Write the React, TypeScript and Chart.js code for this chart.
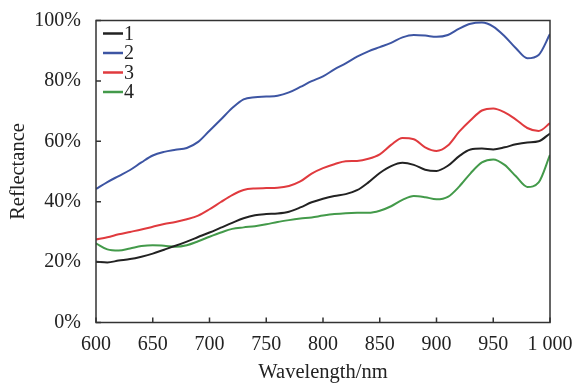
import React, { useEffect, useRef } from "react";
import { Chart, registerables } from "chart.js";

Chart.register(...registerables);

const wavelengths = [600,610,620,630,640,650,660,670,680,690,700,710,720,730,740,750,760,770,780,790,800,810,820,830,840,850,860,870,880,890,900,910,920,930,940,950,960,970,980,990,1000];

const series1 = [20.1,19.9,20.5,21,21.8,22.8,24.1,25.4,26.8,28.3,29.8,31.4,33,34.5,35.5,35.9,36.1,36.7,38.1,39.8,41,41.9,42.5,43.8,46.4,49.5,51.8,52.9,52.2,50.6,50.2,51.9,55.1,57.3,57.6,57.3,58,59,59.6,60,62.6];
const series2 = [44.2,46.5,48.5,50.5,53,55.3,56.5,57.2,57.8,59.8,63.5,67.2,71,73.9,74.6,74.8,75.1,76.2,78,79.9,81.5,83.8,85.8,88,89.8,91.2,92.6,94.4,95.2,95,94.6,95.2,97.3,98.9,99.3,98,94.8,90.8,87.5,88.6,95.5];
const series3 = [27.5,28.2,29.2,30,30.8,31.7,32.6,33.3,34.2,35.4,37.5,39.9,42.2,43.9,44.4,44.5,44.6,45.2,46.7,49.3,51.1,52.4,53.4,53.5,54.2,55.7,58.8,61.1,60.7,58,56.8,58.6,63.2,67,70.2,70.9,69.6,67.2,64.4,63.4,66];
const series4 = [26.2,24.2,23.8,24.5,25.3,25.6,25.4,25.1,25.6,26.9,28.4,29.8,31,31.5,31.9,32.5,33.3,33.9,34.4,34.8,35.4,35.9,36.2,36.3,36.3,37,38.5,40.6,41.9,41.5,40.8,41.6,45,49.4,53,54,52.2,48.4,44.9,46.4,55.5];

const seriesLabels = ["1", "2", "3", "4"];
const seriesColors = ["#222222", "#3d55a3", "#e03a3e", "#439a4a"];
const xTicks = [600, 650, 700, 750, 800, 850, 900, 950, 1000];
const xTickLabels = ["600", "650", "700", "750", "800", "850", "900", "950", "1 000"];
const yTicks = [0, 20, 40, 60, 80, 100];

const FONT = "'Liberation Serif', 'Times New Roman', serif";

const framePlugin = {
  id: "frame",
  afterDatasetsDraw(chart: any) {
    const { ctx, chartArea, scales } = chart;
    const { left, right, top, bottom } = chartArea;
    ctx.save();
    ctx.strokeStyle = "#333";
    ctx.lineWidth = 1.5;
    ctx.strokeRect(left, top, right - left, bottom - top);
    ctx.beginPath();
    for (const v of xTicks) {
      const x = scales.x.getPixelForValue(v);
      ctx.moveTo(x, bottom);
      ctx.lineTo(x, bottom - 5);
    }
    for (const v of yTicks) {
      const y = scales.y.getPixelForValue(v);
      ctx.moveTo(left, y);
      ctx.lineTo(left + 5, y);
    }
    ctx.stroke();
    // legend
    const lx = left + 7;
    let ly = top + 13;
    ctx.font = `20px ${FONT}`;
    ctx.textBaseline = "middle";
    chart.data.datasets.forEach((ds: any) => {
      ctx.strokeStyle = ds.borderColor;
      ctx.lineWidth = 2.5;
      ctx.beginPath();
      ctx.moveTo(lx, ly);
      ctx.lineTo(lx + 20, ly);
      ctx.stroke();
      ctx.fillStyle = "#222";
      ctx.fillText(ds.label, lx + 21, ly + 1);
      ly += 19.5;
    });
    ctx.restore();
  },
};

export default function App() {
  const ref = useRef<HTMLCanvasElement>(null);
  useEffect(() => {
    document.body.style.margin = "0";
    const data = [series1, series2, series3, series4];
    const chart = new Chart(ref.current!, {
      type: "line",
      data: {
        datasets: data.map((s, i) => ({
          label: seriesLabels[i],
          data: s.map((v, j) => ({ x: wavelengths[j], y: v })),
          borderColor: seriesColors[i],
          backgroundColor: seriesColors[i],
          borderWidth: 2,
          pointRadius: 0,
          tension: 0.4,
          cubicInterpolationMode: "monotone",
        })),
      },
      options: {
        animation: false,
        responsive: false,
        layout: { padding: { top: 20.5, right: 26, left: 0, bottom: 0 } },
        plugins: { legend: { display: false }, tooltip: { enabled: false } },
        scales: {
          x: {
            type: "linear",
            min: 600,
            max: 1000,
            afterBuildTicks(scale: any) {
              scale.ticks = xTicks.map((v) => ({ value: v }));
            },
            afterFit(scale: any) {
              scale.height = 64.5;
              scale.paddingLeft = 0;
              scale.paddingRight = 0;
            },
            grid: { display: false, drawTicks: false },
            border: { display: false },
            ticks: {
              color: "#222",
              font: { family: FONT, size: 20 },
              padding: 10,
              maxRotation: 0,
              autoSkip: false,
              callback: (v: any) => xTickLabels[xTicks.indexOf(Number(v))] ?? "",
            },
            title: {
              display: true,
              text: "Wavelength/nm",
              color: "#222",
              font: { family: FONT, size: 20.5 },
              padding: { top: 0, bottom: 2 },
            },
          },
          y: {
            min: 0,
            max: 100,
            afterBuildTicks(scale: any) {
              scale.ticks = yTicks.map((v) => ({ value: v }));
            },
            afterFit(scale: any) {
              scale.width = 96;
              scale.paddingTop = 0;
              scale.paddingBottom = 0;
            },
            grid: { display: false, drawTicks: false },
            border: { display: false },
            ticks: {
              color: "#222",
              font: { family: FONT, size: 20 },
              padding: 15,
              callback: (v: any) => `${v}%`,
            },
            title: {
              display: true,
              text: "Reflectance",
              color: "#222",
              font: { family: FONT, size: 20.5 },
              padding: { top: 6, bottom: 0 },
            },
          },
        },
      },
      plugins: [framePlugin],
    });
    return () => chart.destroy();
  }, []);
  return (
    <div style={{ position: "absolute", left: 0, top: 0, width: 576, height: 387, background: "#fff" }}>
      <canvas ref={ref} width={576} height={387} style={{ width: 576, height: 387 }} />
    </div>
  );
}
